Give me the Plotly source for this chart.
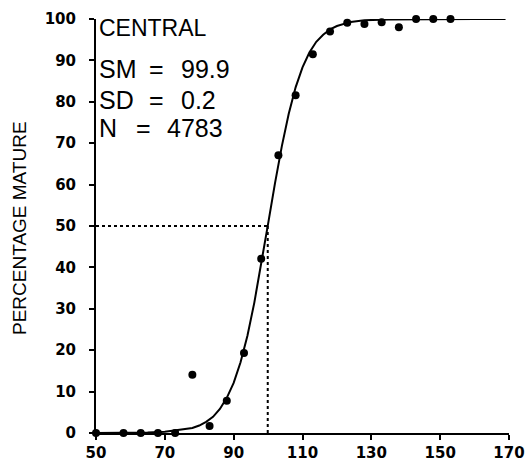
import plotly.graph_objects as go

# Observed data points (length, percentage mature)
obs_x = [50, 58, 63, 68, 73, 78, 83, 88, 93, 98, 103, 108, 113, 118, 123, 128, 133, 138, 143, 148, 153]
obs_y = [0, 0, 0, 0, 0, 14.1, 1.7, 7.8, 19.3, 42.1, 67.1, 81.6, 91.5, 97.0, 99.1, 98.8, 99.2, 98.0, 100, 100, 100]

# Fitted maturity curve
fit_x = [50, 60, 65, 70, 74, 78, 80, 82, 84, 86, 88, 90, 92, 94, 96, 98, 100, 102, 104, 106,
         108, 110, 112, 114, 116, 118, 120, 124, 128, 135, 145, 160, 169]
fit_y = [0, 0.0, 0.1, 0.3, 0.7, 1.2, 1.8, 2.7, 3.9, 5.8, 8.5, 12.1, 17.1, 23.5, 31.5, 40.6, 50.5,
         60.3, 69.3, 77.1, 83.5, 88.3, 91.9, 94.5, 96.2, 97.5, 98.3, 99.3, 99.7, 99.9, 100, 100, 100]

# Size at 50% maturity
sm = 99.9
half = 50
x_start = 50

x_ticks = [50, 70, 90, 110, 130, 150, 170]
y_ticks = [0, 10, 20, 30, 40, 50, 60, 70, 80, 90, 100]

title_text = "CENTRAL"
stat_names = ["SM", "SD", "N"]
stat_values = ["99.9", "0.2", "4783"]

# pixel geometry of the plot area
L, R, T, B = 96, 509, 19, 433
W, H = 529, 466


def px_to_paper_x(px):
    return (px - L) / (R - L)


def py_to_paper_y(py):
    return (B - py) / (B - T)


fig = go.Figure()

fig.add_trace(go.Scatter(x=[x_start, sm], y=[half, half], mode="lines",
                         line=dict(color="black", width=2, dash="dot"), cliponaxis=False))
fig.add_trace(go.Scatter(x=[sm, sm], y=[0, half], mode="lines",
                         line=dict(color="black", width=2, dash="dot"), cliponaxis=False))
fig.add_trace(go.Scatter(x=fit_x, y=fit_y, mode="lines",
                         line=dict(color="black", width=2), cliponaxis=False))
fig.add_trace(go.Scatter(x=obs_x, y=obs_y, mode="markers",
                         marker=dict(color="black", size=8), cliponaxis=False))


def put(text, px, py, size=25):
    fig.add_annotation(x=px_to_paper_x(px - 3), y=py_to_paper_y(py), xref="paper", yref="paper",
                       text=text, showarrow=False, xanchor="left", yanchor="middle",
                       font=dict(family="Liberation Sans", size=size, color="black"))


put(title_text, 100, 28.5, size=23)
rows_y = [69, 100, 128]
eq_px = [150, 150, 137]
val_px = [182, 182, 168]
for name, val, yy, ex, vx in zip(stat_names, stat_values, rows_y, eq_px, val_px):
    put(name, 100, yy)
    put("=", ex, yy)
    put(val, vx, yy)

fig.add_annotation(x=px_to_paper_x(19), y=py_to_paper_y(228), xref="paper", yref="paper",
                   text="PERCENTAGE MATURE", showarrow=False, textangle=-90,
                   xanchor="center", yanchor="middle",
                   font=dict(family="Liberation Sans", size=19, color="black"))

tickfont = dict(family="DejaVu Sans", size=15, color="black", weight="bold")

fig.update_xaxes(range=[50, 170], tickvals=x_ticks, ticktext=[str(v) for v in x_ticks],
                 showline=True, linecolor="black", linewidth=2, ticks="outside", ticklen=5,
                 tickwidth=2, tickcolor="black", showgrid=False, zeroline=False, tickfont=tickfont,
                 automargin=False)
fig.update_yaxes(range=[0, 100], tickvals=y_ticks, ticktext=[str(v) for v in y_ticks],
                 showline=True, linecolor="black", linewidth=2, ticks="outside", ticklen=5,
                 tickwidth=2, tickcolor="black", showgrid=False, zeroline=False, tickfont=tickfont,
                 ticklabelstandoff=10, automargin=False)

fig.update_layout(width=W, height=H, margin=dict(l=L, r=W - R, t=T, b=H - B),
                  plot_bgcolor="white", paper_bgcolor="white", showlegend=False)

fig.write_html("out.html", config={"displayModeBar": False},
               post_script="document.body.style.margin='0';document.body.style.overflow='hidden';")
